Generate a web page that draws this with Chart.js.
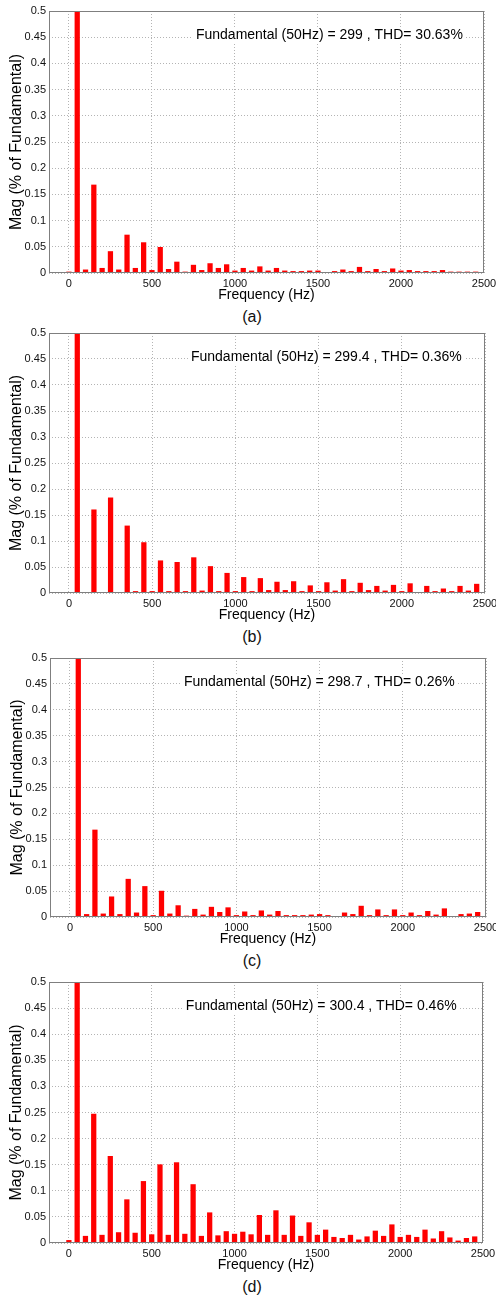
<!DOCTYPE html>
<html>
<head>
<meta charset="utf-8">
<script src="https://cdn.jsdelivr.net/npm/chart.js@4.4.1/dist/chart.umd.min.js"></script>
<style>
  body { margin: 0; background: #fff; width: 496px; height: 1297px; position: relative; overflow: hidden; font-family: "Liberation Sans", Arial, sans-serif; }
  .panel { position: absolute; left: 0; width: 496px; }
  .caption { position: absolute; left: 232px; width: 40px; text-align: center; font-size: 16px; line-height: 16px; color: #111; }
</style>
</head>
<body>
<script>
// harmonic frequencies (Hz)
const freqs = [0, 50, 100, 150, 200, 250, 300, 350, 400, 450,
  500, 550, 600, 650, 700, 750, 800, 850, 900, 950,
  1000, 1050, 1100, 1150, 1200, 1250, 1300, 1350, 1400, 1450,
  1500, 1550, 1600, 1650, 1700, 1750, 1800, 1850, 1900, 1950,
  2000, 2050, 2100, 2150, 2200, 2250, 2300, 2350, 2400, 2450];

const magA = [0.002, 1, 0.006, 0.168, 0.009, 0.041, 0.006, 0.0725, 0.009, 0.058,
  0.005, 0.049, 0.007, 0.021, 0.002, 0.015, 0.005, 0.018, 0.009, 0.016,
  0.004, 0.009, 0.004, 0.012, 0.004, 0.009, 0.004, 0.003, 0.003, 0.004,
  0.004, 0.001, 0.003, 0.006, 0.003, 0.011, 0.003, 0.007, 0.003, 0.008,
  0.004, 0.005, 0.003, 0.003, 0.003, 0.005, 0.002, 0.002, 0.002, 0.002];

const magB = [0.001, 1, 0.001, 0.16, 0.001, 0.183, 0.001, 0.129, 0.003, 0.097,
  0.003, 0.062, 0.003, 0.059, 0.003, 0.068, 0.004, 0.051, 0.003, 0.038,
  0.003, 0.030, 0.003, 0.028, 0.005, 0.021, 0.005, 0.022, 0.003, 0.014,
  0.003, 0.020, 0.004, 0.026, 0.003, 0.019, 0.005, 0.013, 0.004, 0.015,
  0.003, 0.018, 0.001, 0.013, 0.003, 0.008, 0.003, 0.013, 0.004, 0.017];

const magC = [0.001, 1, 0.005, 0.168, 0.006, 0.039, 0.005, 0.073, 0.008, 0.059,
  0.003, 0.050, 0.006, 0.022, 0.002, 0.015, 0.004, 0.019, 0.009, 0.018,
  0.003, 0.010, 0.003, 0.012, 0.004, 0.011, 0.003, 0.003, 0.003, 0.004,
  0.005, 0.003, 0.001, 0.008, 0.005, 0.021, 0.003, 0.014, 0.003, 0.014,
  0.003, 0.008, 0.003, 0.011, 0.004, 0.016, 0.001, 0.005, 0.006, 0.009];

const magD = [0.005, 1, 0.013, 0.247, 0.015, 0.166, 0.020, 0.083, 0.019, 0.118,
  0.016, 0.150, 0.015, 0.154, 0.017, 0.112, 0.013, 0.058, 0.014, 0.022,
  0.017, 0.021, 0.016, 0.053, 0.015, 0.062, 0.015, 0.052, 0.013, 0.039,
  0.015, 0.025, 0.011, 0.009, 0.015, 0.006, 0.012, 0.023, 0.013, 0.035,
  0.011, 0.015, 0.011, 0.025, 0.008, 0.022, 0.010, 0.004, 0.009, 0.012];

const xTicks = [0, 500, 1000, 1500, 2000, 2500];
const yTicks = [0, 0.05, 0.1, 0.15, 0.2, 0.25, 0.3, 0.35, 0.4, 0.45, 0.5];

const notes = [
  'Fundamental (50Hz) = 299 , THD= 30.63%',
  'Fundamental (50Hz) = 299.4 , THD= 0.36%',
  'Fundamental (50Hz) = 298.7 , THD= 0.26%',
  'Fundamental (50Hz) = 300.4 , THD= 0.46%'
];
const captions = ['(a)', '(b)', '(c)', '(d)'];
const series = [magA, magB, magC, magD];

// plot box of each panel in page pixels, and where the note starts (Hz)
const layoutBoxes = [
  { top: 11, bottom: 273, left: 49, right: 484, noteX: 765 },
  { top: 333, bottom: 593, left: 49, right: 485, noteX: 733 },
  { top: 658, bottom: 917, left: 50, right: 486, noteX: 685 },
  { top: 982, bottom: 1243, left: 49, right: 483, noteX: 706 }
];

const FONT = '"Liberation Sans", Arial, sans-serif';

// grey box round the plot + the THD note
const boxPlugin = {
  id: 'box',
  afterDatasetsDraw(chart, args, opts) {
    const a = chart.chartArea;
    const ctx = chart.ctx;
    ctx.save();
    // note with white background
    const px = chart.scales.x.getPixelForValue(opts.x);
    const py = chart.scales.y.getPixelForValue(0.45) - 2;
    ctx.font = '14px ' + FONT;
    const w = ctx.measureText(opts.text).width;
    ctx.fillStyle = '#fff';
    ctx.fillRect(px - 3, py - 8, w + 6, 16);
    ctx.fillStyle = '#000';
    ctx.textBaseline = 'middle';
    ctx.fillText(opts.text, px, py);
    // axes box
    ctx.strokeStyle = '#7f7f7f';
    ctx.lineWidth = 1;
    ctx.strokeRect(a.left + 0.5, a.top + 0.5, a.right - a.left - 1, a.bottom - a.top - 1);
    ctx.restore();
  }
};

const makePanel = (i) => {
  const b = layoutBoxes[i];
  const h = (b.bottom - b.top) + 11 + 31;

  const div = document.createElement('div');
  div.className = 'panel';
  div.style.top = (b.top - 11) + 'px';
  div.style.height = h + 'px';
  const canvas = document.createElement('canvas');
  canvas.width = 496;
  canvas.height = h;
  div.appendChild(canvas);
  document.body.appendChild(div);

  const cap = document.createElement('div');
  cap.className = 'caption';
  cap.style.top = (b.bottom + 44 - 8) + 'px';
  cap.textContent = captions[i];
  document.body.appendChild(cap);

  const points = freqs.map((f, k) => ({ x: f, y: series[i][k] }));

  new Chart(canvas.getContext('2d'), {
    type: 'bar',
    data: {
      datasets: [{
        data: points,
        backgroundColor: '#ff0000',
        borderWidth: 0,
        barThickness: 4.6,
        clip: 0
      }]
    },
    plugins: [boxPlugin],
    options: {
      responsive: false,
      animation: false,
      layout: { padding: { top: 11, left: b.left - 42, right: 496 - b.right, bottom: 0 } },
      plugins: {
        legend: { display: false },
        tooltip: { enabled: false },
        box: { text: notes[i], x: b.noteX }
      },
      scales: {
        x: {
          type: 'linear',
          min: -120,
          max: 2500,
          offset: false,
          afterBuildTicks: (s) => { s.ticks = xTicks.map(v => ({ value: v })); },
          afterFit: (s) => { s.height = 31; s.paddingLeft = 0; s.paddingRight = 0; },
          grid: { color: '#b4b4b4', offset: false, drawTicks: false },
          border: { display: false, dash: [1, 2] },
          ticks: {
            padding: 4,
            maxRotation: 0,
            color: '#111',
            font: { family: FONT, size: 11 },
            callback: (v) => String(v)
          },
          title: { display: true, text: 'Frequency (Hz)', color: '#000', padding: 0, font: { family: FONT, size: 14 } }
        },
        y: {
          min: 0,
          max: 0.5,
          afterBuildTicks: (s) => { s.ticks = yTicks.map(v => ({ value: v })); },
          afterFit: (s) => { s.width = 42; s.paddingTop = 0; s.paddingBottom = 0; },
          grid: { color: '#b4b4b4', drawTicks: false },
          border: { display: false, dash: [1, 2] },
          ticks: {
            padding: 3,
            color: '#111',
            font: { family: FONT, size: 11 },
            callback: (v) => String(+v.toFixed(2))
          },
          title: { display: true, text: 'Mag (% of Fundamental)', color: '#000', padding: 0, font: { family: FONT, size: 16 } }
        }
      }
    }
  });
};

captions.forEach((c, i) => makePanel(i));
</script>
</body>
</html>
